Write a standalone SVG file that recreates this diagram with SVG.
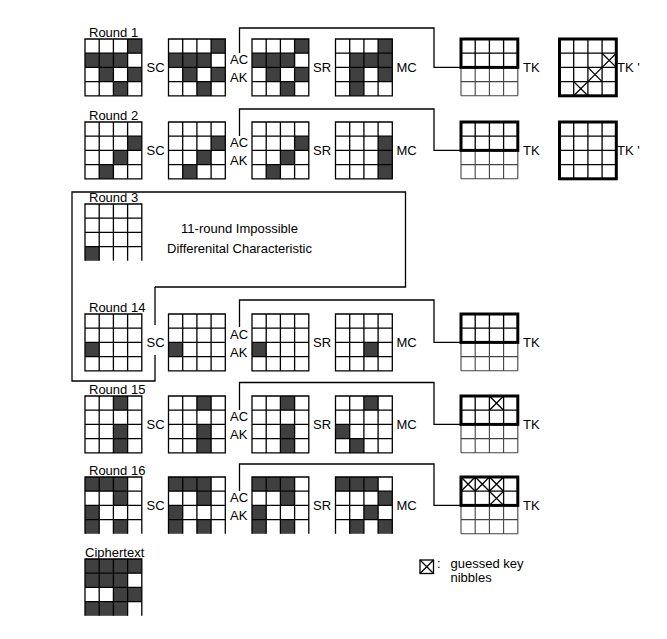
<svg xmlns="http://www.w3.org/2000/svg" xmlns:xlink="http://www.w3.org/1999/xlink" width="667" height="639" viewBox="0 0 667 639">
<style>
text{font-family:"Liberation Sans",Arial,sans-serif;font-size:13px;fill:#000}
.ln{fill:none;stroke:#000;stroke-width:1.3}
.gl{fill:none;stroke:#444;stroke-width:1.1}
.th{fill:none;stroke:#000;stroke-width:3}
.f{fill:#404040}
.cn{fill:none;stroke:#000;stroke-width:1.3}
</style>
<defs>
<rect id="c" width="14.2" height="14.2"/>
<path id="x" d="M0,0L14.2,14.2M14.2,0L0,14.2" class="ln"/>
<g id="g"><path class="ln" d="M0,0H56.8V56.8H0ZM14.2,0V56.8M28.4,0V56.8M42.6,0V56.8M0,14.2H56.8M0,28.4H56.8M0,42.6H56.8"/></g>
<g id="gnb"><path class="ln" d="M0,56.8V0H56.8V56.8M14.2,0V56.8M28.4,0V56.8M42.6,0V56.8M0,14.2H56.8M0,28.4H56.8M0,42.6H56.8"/></g>
<g id="tk"><path class="gl" d="M0,28.4V56.8M14.2,28.4V56.8M28.4,28.4V56.8M42.6,28.4V56.8M56.8,28.4V56.8M0,42.6H56.8M0,56.8H56.8"/><path class="ln" d="M14.2,0V28.4M28.4,0V28.4M42.6,0V28.4M0,14.2H56.8"/><rect class="th" x="0" y="0" width="56.8" height="28.4"/></g>
<g id="tkp"><path class="ln" d="M14.2,0V56.8M28.4,0V56.8M42.6,0V56.8M0,14.2H56.8M0,28.4H56.8M0,42.6H56.8"/><rect class="th" x="0" y="0" width="56.8" height="56.8"/></g>
</defs>
<rect width="667" height="639" fill="#fff"/>

<g id="connectors">
<path class="cn" d="M239.5,53V28H434V67.4H461"/>
<path class="cn" d="M239.5,136V109H434V150.4H461"/>
<path class="cn" d="M239.5,327V300H434V342.4H461"/>
<path class="cn" d="M239.5,410V382.5H434V424.4H461"/>
<path class="cn" d="M239.5,491V464H434V505.4H461"/>
<path class="cn" d="M155,287H405.5V192H72V381H155V355M155,325V287"/>
</g>

<!-- Round 1 -->
<g id="round1">
<text x="89" y="37">Round 1</text>
<g transform="translate(85,39)"><use href="#c" x="42.6" y="0" class="f"/><use href="#c" x="0" y="14.2" class="f"/><use href="#c" x="14.2" y="14.2" class="f"/><use href="#c" x="28.4" y="14.2" class="f"/><use href="#c" x="14.2" y="28.4" class="f"/><use href="#c" x="42.6" y="28.4" class="f"/><use href="#c" x="28.4" y="42.6" class="f"/><use href="#g"/></g>
<text x="146.5" y="72">SC</text>
<g transform="translate(168.5,39)"><use href="#c" x="42.6" y="0" class="f"/><use href="#c" x="0" y="14.2" class="f"/><use href="#c" x="14.2" y="14.2" class="f"/><use href="#c" x="28.4" y="14.2" class="f"/><use href="#c" x="14.2" y="28.4" class="f"/><use href="#c" x="42.6" y="28.4" class="f"/><use href="#c" x="28.4" y="42.6" class="f"/><use href="#g"/></g>
<text x="230" y="63.5">AC</text><text x="230" y="82">AK</text>
<g transform="translate(252,39)"><use href="#c" x="42.6" y="0" class="f"/><use href="#c" x="0" y="14.2" class="f"/><use href="#c" x="14.2" y="14.2" class="f"/><use href="#c" x="28.4" y="14.2" class="f"/><use href="#c" x="14.2" y="28.4" class="f"/><use href="#c" x="42.6" y="28.4" class="f"/><use href="#c" x="28.4" y="42.6" class="f"/><use href="#g"/></g>
<text x="313" y="72">SR</text>
<g transform="translate(335.5,39)"><use href="#c" x="42.6" y="0" class="f"/><use href="#c" x="14.2" y="14.2" class="f"/><use href="#c" x="28.4" y="14.2" class="f"/><use href="#c" x="42.6" y="14.2" class="f"/><use href="#c" x="14.2" y="28.4" class="f"/><use href="#c" x="42.6" y="28.4" class="f"/><use href="#c" x="14.2" y="42.6" class="f"/><use href="#g"/></g>
<text x="396.5" y="72">MC</text>
<g transform="translate(461,39)"><use href="#tk"/></g>
<text x="523" y="72">TK</text>
<g transform="translate(559.5,39)"><use href="#tkp"/><use href="#x" x="42.6" y="14.2"/><use href="#x" x="28.4" y="28.4"/><use href="#x" x="14.2" y="42.6"/></g>
<text x="617" y="72">TK '</text>
</g>

<!-- Round 2 -->
<g id="round2">
<text x="89" y="120">Round 2</text>
<g transform="translate(85,122)"><use href="#c" x="42.6" y="14.2" class="f"/><use href="#c" x="28.4" y="28.4" class="f"/><use href="#c" x="14.2" y="42.6" class="f"/><use href="#g"/></g>
<text x="146.5" y="155">SC</text>
<g transform="translate(168.5,122)"><use href="#c" x="42.6" y="14.2" class="f"/><use href="#c" x="28.4" y="28.4" class="f"/><use href="#c" x="14.2" y="42.6" class="f"/><use href="#g"/></g>
<text x="230" y="146.5">AC</text><text x="230" y="165">AK</text>
<g transform="translate(252,122)"><use href="#c" x="42.6" y="14.2" class="f"/><use href="#c" x="28.4" y="28.4" class="f"/><use href="#c" x="14.2" y="42.6" class="f"/><use href="#g"/></g>
<text x="313" y="155">SR</text>
<g transform="translate(335.5,122)"><use href="#c" x="42.6" y="14.2" class="f"/><use href="#c" x="42.6" y="28.4" class="f"/><use href="#c" x="42.6" y="42.6" class="f"/><use href="#g"/></g>
<text x="396.5" y="155">MC</text>
<g transform="translate(461,122)"><use href="#tk"/></g>
<text x="523" y="155">TK</text>
<g transform="translate(559.5,122)"><use href="#tkp"/></g>
<text x="617" y="155">TK '</text>
</g>

<!-- Round 3 -->
<g id="round3">
<text x="89" y="202">Round 3</text>
<g transform="translate(85,204)"><use href="#c" x="0" y="42.6" class="f"/><use href="#gnb"/></g>
<text x="239.5" y="233" text-anchor="middle">11-round Impossible</text>
<text x="239.5" y="253" text-anchor="middle">Differenital Characteristic</text>
</g>

<!-- Round 14 -->
<g id="round14">
<text x="89" y="312">Round 14</text>
<g transform="translate(85,314)"><use href="#c" x="0" y="28.4" class="f"/><use href="#g"/></g>
<text x="146.5" y="347">SC</text>
<g transform="translate(168.5,314)"><use href="#c" x="0" y="28.4" class="f"/><use href="#g"/></g>
<text x="230" y="338.5">AC</text><text x="230" y="357">AK</text>
<g transform="translate(252,314)"><use href="#c" x="0" y="28.4" class="f"/><use href="#g"/></g>
<text x="313" y="347">SR</text>
<g transform="translate(335.5,314)"><use href="#c" x="28.4" y="28.4" class="f"/><use href="#g"/></g>
<text x="396.5" y="347">MC</text>
<g transform="translate(461,314)"><use href="#tk"/></g>
<text x="523" y="347">TK</text>
</g>

<!-- Round 15 -->
<g id="round15">
<text x="89" y="394">Round 15</text>
<g transform="translate(85,396)"><use href="#c" x="28.4" y="0" class="f"/><use href="#c" x="28.4" y="28.4" class="f"/><use href="#c" x="28.4" y="42.6" class="f"/><use href="#g"/></g>
<text x="146.5" y="429">SC</text>
<g transform="translate(168.5,396)"><use href="#c" x="28.4" y="0" class="f"/><use href="#c" x="28.4" y="28.4" class="f"/><use href="#c" x="28.4" y="42.6" class="f"/><use href="#g"/></g>
<text x="230" y="420.5">AC</text><text x="230" y="439">AK</text>
<g transform="translate(252,396)"><use href="#c" x="28.4" y="0" class="f"/><use href="#c" x="28.4" y="28.4" class="f"/><use href="#c" x="28.4" y="42.6" class="f"/><use href="#g"/></g>
<text x="313" y="429">SR</text>
<g transform="translate(335.5,396)"><use href="#c" x="28.4" y="0" class="f"/><use href="#c" x="0" y="28.4" class="f"/><use href="#c" x="14.2" y="42.6" class="f"/><use href="#g"/></g>
<text x="396.5" y="429">MC</text>
<g transform="translate(461,396)"><use href="#tk"/><use href="#x" x="28.4" y="0"/></g>
<text x="523" y="429">TK</text>
</g>

<!-- Round 16 -->
<g id="round16">
<text x="89" y="475">Round 16</text>
<g transform="translate(85,477)"><use href="#c" x="0" y="0" class="f"/><use href="#c" x="14.2" y="0" class="f"/><use href="#c" x="28.4" y="0" class="f"/><use href="#c" x="28.4" y="14.2" class="f"/><use href="#c" x="0" y="28.4" class="f"/><use href="#c" x="0" y="42.6" class="f"/><use href="#c" x="28.4" y="42.6" class="f"/><use href="#gnb"/></g>
<text x="146.5" y="510">SC</text>
<g transform="translate(168.5,477)"><use href="#c" x="0" y="0" class="f"/><use href="#c" x="14.2" y="0" class="f"/><use href="#c" x="28.4" y="0" class="f"/><use href="#c" x="28.4" y="14.2" class="f"/><use href="#c" x="0" y="28.4" class="f"/><use href="#c" x="0" y="42.6" class="f"/><use href="#c" x="28.4" y="42.6" class="f"/><use href="#gnb"/></g>
<text x="230" y="501.5">AC</text><text x="230" y="520">AK</text>
<g transform="translate(252,477)"><use href="#c" x="0" y="0" class="f"/><use href="#c" x="14.2" y="0" class="f"/><use href="#c" x="28.4" y="0" class="f"/><use href="#c" x="28.4" y="14.2" class="f"/><use href="#c" x="0" y="28.4" class="f"/><use href="#c" x="0" y="42.6" class="f"/><use href="#c" x="28.4" y="42.6" class="f"/><use href="#gnb"/></g>
<text x="313" y="510">SR</text>
<g transform="translate(335.5,477)"><use href="#c" x="0" y="0" class="f"/><use href="#c" x="14.2" y="0" class="f"/><use href="#c" x="28.4" y="0" class="f"/><use href="#c" x="42.6" y="14.2" class="f"/><use href="#c" x="28.4" y="28.4" class="f"/><use href="#c" x="14.2" y="42.6" class="f"/><use href="#c" x="42.6" y="42.6" class="f"/><use href="#gnb"/></g>
<text x="396.5" y="510">MC</text>
<g transform="translate(461,477)"><use href="#tk"/><use href="#x" x="0" y="0"/><use href="#x" x="14.2" y="0"/><use href="#x" x="28.4" y="0"/><use href="#x" x="28.4" y="14.2"/></g>
<text x="523" y="510">TK</text>
</g>

<!-- Ciphertext -->
<g id="ciphertext">
<text x="85" y="557">Ciphertext</text>
<g transform="translate(85,559)"><use href="#c" x="0" y="0" class="f"/><use href="#c" x="14.2" y="0" class="f"/><use href="#c" x="28.4" y="0" class="f"/><use href="#c" x="42.6" y="0" class="f"/><use href="#c" x="0" y="14.2" class="f"/><use href="#c" x="14.2" y="14.2" class="f"/><use href="#c" x="28.4" y="14.2" class="f"/><use href="#c" x="28.4" y="28.4" class="f"/><use href="#c" x="42.6" y="28.4" class="f"/><use href="#c" x="0" y="42.6" class="f"/><use href="#c" x="14.2" y="42.6" class="f"/><use href="#c" x="28.4" y="42.6" class="f"/><use href="#gnb"/></g>
</g>

<!-- Legend -->
<g id="legend">
<rect x="420" y="560" width="13.5" height="13.5" class="ln"/>
<path class="ln" d="M420,560L433.5,573.5M433.5,560L420,573.5"/>
<text x="437" y="567.5">:</text>
<text x="450.5" y="567.5">guessed key</text>
<text x="450.5" y="581.5">nibbles</text>
</g>
</svg>
